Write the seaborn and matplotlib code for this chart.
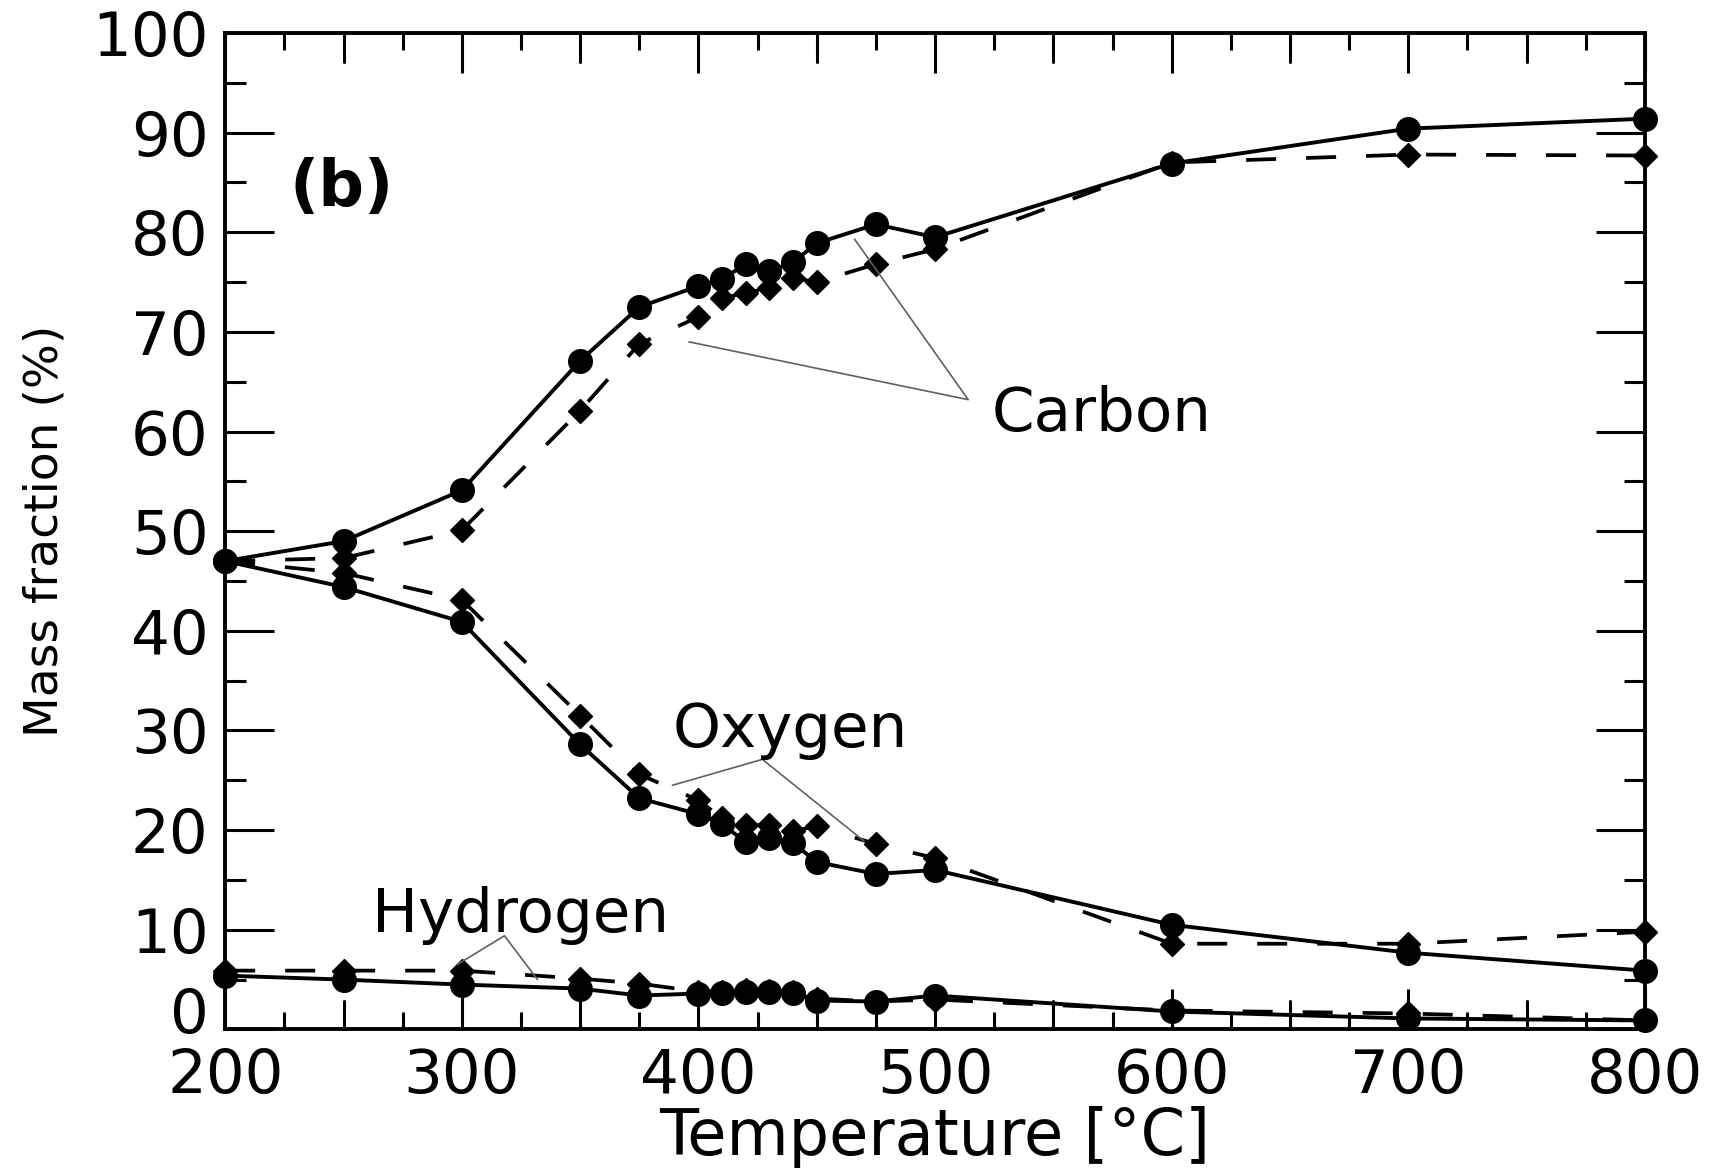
import matplotlib
matplotlib.use('Agg')
import matplotlib.pyplot as plt
from matplotlib.ticker import MultipleLocator, FuncFormatter
import seaborn as sns
import numpy as np
import pandas as pd

# temperatures (deg C), same for every series
temps = [200, 250, 300, 350, 375, 400, 410, 420, 430, 440, 450, 475, 500, 600, 700, 800]

# solid line + circles
carbon_solid = [47.0, 49.0, 54.1, 67.1, 72.5, 74.6, 75.3, 76.8, 76.1, 77.0, 78.9, 80.8, 79.5, 86.9, 90.4, 91.4]
oxygen_solid = [47.0, 44.4, 40.9, 28.6, 23.2, 21.6, 20.6, 18.8, 19.2, 18.7, 16.8, 15.6, 16.0, 10.5, 7.7, 5.9]
hydrogen_solid = [5.4, 5.0, 4.5, 4.1, 3.4, 3.6, 3.7, 3.8, 3.8, 3.7, 2.9, 2.8, 3.4, 1.8, 1.1, 0.9]

# dashed line + diamonds
carbon_dash = [47.0, 47.3, 50.1, 62.1, 68.8, 71.5, 73.4, 73.9, 74.4, 75.4, 75.0, 76.8, 78.3, 87.0, 87.8, 87.7]
oxygen_dash = [47.0, 45.8, 43.1, 31.5, 25.6, 23.0, 21.2, 20.5, 20.5, 19.9, 20.4, 18.6, 17.2, 8.6, 8.6, 9.8]
hydrogen_dash = [5.9, 5.9, 5.9, 5.1, 4.6, 3.8, 3.8, 4.0, 3.9, 3.8, 3.1, 2.8, 3.0, 1.9, 1.6, 0.9]

sns.set_style('ticks')
plt.rcParams['font.family'] = ['DejaVu Sans']
for k in ['text.color', 'axes.labelcolor', 'xtick.color', 'ytick.color', 'axes.edgecolor']:
    plt.rcParams[k] = 'black'

fig = plt.figure(figsize=(17.23, 11.69), dpi=100)
ax = fig.add_axes([0.1307, 0.1194, 0.824, 0.8524])

for vals in [carbon_dash, oxygen_dash, hydrogen_dash]:
    sns.lineplot(x=temps, y=vals, ax=ax, color='black', linewidth=2.7,
                 linestyle=(0, (8, 8)), marker='D', markersize=12,
                 markeredgecolor='black', markeredgewidth=1, clip_on=False)

for vals in [carbon_solid, oxygen_solid, hydrogen_solid]:
    sns.lineplot(x=temps, y=vals, ax=ax, color='black', linewidth=2.8,
                 marker='o', markersize=17,
                 markeredgecolor='black', markeredgewidth=1, clip_on=False)

ax.set_xlim(200, 800)
ax.set_ylim(0, 100)
ax.xaxis.set_major_locator(MultipleLocator(100))
ax.yaxis.set_major_locator(MultipleLocator(10))
# the "0" is drawn separately so it does not run into "200"
ax.yaxis.set_major_formatter(FuncFormatter(lambda v, p: '' if v == 0 else '%d' % v))

# unlabelled ticks: long every 50 C, short every 25 C; short every 5 %
ax.set_xticks(np.arange(225, 800, 50), minor=True)
ax.set_yticks(np.arange(5, 100, 10), minor=True)
ax.tick_params(axis='x', which='major', direction='in', length=29, width=2.2,
               top=True, bottom=True, labelsize=44, pad=13)
ax.tick_params(axis='x', which='minor', direction='in', length=12, width=2.2,
               top=True, bottom=True)
ax.tick_params(axis='y', which='major', direction='in', length=35, width=2.2,
               left=True, right=True, labelsize=44, pad=12)
ax.tick_params(axis='y', which='minor', direction='in', length=15, width=2.2,
               left=True, right=True)
# extra long ticks at the 50s between labelled hundreds
for xv in [250, 350, 450, 550, 650, 750]:
    ax.plot([xv, xv], [0, 2.9], color='black', lw=2.2, clip_on=False)
    ax.plot([xv, xv], [100, 97.1], color='black', lw=2.2, clip_on=False)

ax.annotate('0', xy=(0, 0), xycoords='axes fraction', xytext=(-12, 9),
            textcoords='offset points', ha='right', va='center', fontsize=44)

for sp in ax.spines.values():
    sp.set_linewidth(2.8)
    sp.set_visible(True)

ax.set_xlabel('Temperature [°C]', fontsize=46, labelpad=0)
ax.set_ylabel('Mass fraction (%)', fontsize=34, labelpad=18)

# labels with thin leader lines
lc = '#606060'
ax.text(227, 82.6, '(b)', fontsize=46, fontweight='bold', va='baseline')

ax.text(524, 60.1, 'Carbon', fontsize=44, va='baseline')
ax.plot([466, 514, 396], [79.3, 63.2, 69.0], color=lc, lw=1.2)

ax.text(389, 28.3, 'Oxygen', fontsize=44, va='baseline')
ax.plot([389, 427, 470], [24.5, 27.1, 18.9], color=lc, lw=1.2)

ax.text(262, 9.8, 'Hydrogen', fontsize=44, va='baseline')
ax.plot([298, 318, 332], [6.5, 9.4, 5.0], color=lc, lw=1.2)

fig.savefig('out.png', dpi=100)
